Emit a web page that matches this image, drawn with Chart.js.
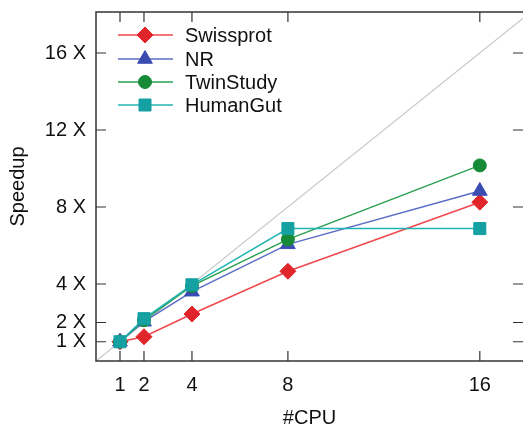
<!DOCTYPE html>
<html>
<head>
<meta charset="utf-8">
<script src="https://cdn.jsdelivr.net/npm/chart.js@4"></script>
<style>
  html, body { margin: 0; padding: 0; background: #fff; }
  #wrap { width: 523px; height: 427px; }
</style>
</head>
<body>
<div id="wrap"><canvas id="grafico" width="523" height="427"></canvas></div>
<script>
// numero de CPUs e speedup medido por base de dados
const cpus = [1, 2, 4, 8, 16];
const swissprot = [1, 1.26, 2.44, 4.66, 8.25];
const nr = [1, 2.04, 3.6, 6.06, 8.83];
const twinStudy = [1, 2.12, 3.9, 6.32, 10.16];
const humanGut = [1, 2.2, 3.96, 6.88, 6.88];
const yTicks = [1, 2, 4, 8, 12, 16];
const xTicks = [1, 2, 4, 8, 16];

const FONTE = "'Liberation Sans', Arial, Helvetica, sans-serif";

const series = [
    { label: "Swissprot", dado: swissprot, linha: "#f0484c", cor: "#e0262a", ponto: "rectRot", raio: 8 },
    { label: "NR", dado: nr, linha: "#5a6cc4", cor: "#3a4cb0", ponto: "triangle", raio: 8.5 },
    { label: "TwinStudy", dado: twinStudy, linha: "#2aa050", cor: "#178a38", ponto: "circle", raio: 6.5 },
    { label: "HumanGut", dado: humanGut, linha: "#22b4b4", cor: "#15a0a2", ponto: "rect", raio: 8.5 }
];

const pares = arr => cpus.map((c, i) => ({ x: c, y: arr[i] }));

const datasets = series.map((s, i) => ({
    label: s.label,
    data: pares(s.dado),
    borderColor: s.linha,
    backgroundColor: s.cor,
    pointBorderColor: s.cor,
    pointBackgroundColor: s.cor,
    pointStyle: s.ponto,
    pointRadius: s.raio,
    pointBorderWidth: 1,
    borderWidth: 1.5,
    order: 3 - i
}));

// linha de speedup ideal
datasets.push({
    label: "ideal",
    data: [{ x: 0, y: 0 }, { x: 18.2, y: 18.2 }],
    borderColor: "#c8c8c8",
    borderWidth: 1.2,
    pointRadius: 0,
    order: 10
});

// moldura com marcas para dentro + legenda
const moldura = {
    id: "moldura",
    afterDatasetsDraw(chart) {
        const ctx = chart.ctx;
        const a = chart.chartArea;
        const sx = chart.scales.x, sy = chart.scales.y;
        const tam = 10;
        ctx.save();
        ctx.strokeStyle = "#333";
        ctx.lineWidth = 1.5;
        ctx.strokeRect(a.left, a.top, a.right - a.left + 2, a.bottom - a.top);
        ctx.lineWidth = 1.2;
        ctx.beginPath();
        xTicks.forEach(v => {
            const px = sx.getPixelForValue(v);
            ctx.moveTo(px, a.bottom); ctx.lineTo(px, a.bottom - tam);
            ctx.moveTo(px, a.top); ctx.lineTo(px, a.top + tam);
        });
        yTicks.forEach(v => {
            const py = sy.getPixelForValue(v);
            ctx.moveTo(a.left, py); ctx.lineTo(a.left + tam, py);
            ctx.moveTo(a.right, py); ctx.lineTo(a.right - tam, py);
        });
        ctx.stroke();

        // legenda
        const x0 = 118, x1 = 173, xm = 145, xt = 185;
        const ys = [35, 59, 82, 105];
        ctx.font = "20px " + FONTE;
        ctx.textBaseline = "middle";
        ctx.textAlign = "left";
        series.forEach((s, i) => {
            ctx.strokeStyle = s.linha;
            ctx.lineWidth = 1.5;
            ctx.beginPath();
            ctx.moveTo(x0, ys[i]); ctx.lineTo(x1, ys[i]);
            ctx.stroke();
            ctx.fillStyle = s.cor;
            ctx.strokeStyle = s.cor;
            ctx.lineWidth = 1;
            Chart.helpers.drawPoint(ctx, { pointStyle: s.ponto, radius: s.raio, borderWidth: 1, rotation: 0 }, xm, ys[i]);
            ctx.fillStyle = "#111";
            ctx.fillText(s.label, xt, ys[i] + 1);
        });
        ctx.restore();
    }
};

const ctx = document.getElementById('grafico').getContext('2d');
const grafico = new Chart(ctx, {
    type: 'line',
    data: { datasets },
    options: {
        responsive: false,
        animation: false,
        layout: { autoPadding: false, padding: { top: 12, right: 0, left: 0, bottom: 0 } },
        plugins: { legend: { display: false }, tooltip: { enabled: false } },
        scales: {
            x: {
                type: 'linear',
                min: 0,
                max: 17.8,
                afterBuildTicks: s => { s.ticks = xTicks.map(v => ({ value: v })); },
                afterFit: s => { s.height = 66; s.paddingLeft = 0; s.paddingRight = 0; },
                grid: { display: false, drawTicks: false },
                border: { display: false },
                ticks: {
                    color: "#111",
                    font: { family: FONTE, size: 20 },
                    padding: 12,
                    maxRotation: 0,
                    autoSkip: false
                },
                title: {
                    display: true,
                    text: "#CPU",
                    color: "#111",
                    font: { family: FONTE, size: 20 },
                    padding: { top: 0, bottom: -3 }
                }
            },
            y: {
                type: 'linear',
                min: 0,
                max: 18.13,
                afterBuildTicks: s => { s.ticks = yTicks.map(v => ({ value: v })); },
                afterFit: s => { s.width = 96; s.paddingTop = 0; s.paddingBottom = 0; },
                grid: { display: false, drawTicks: false },
                border: { display: false },
                ticks: {
                    color: "#111",
                    font: { family: FONTE, size: 20 },
                    padding: 10,
                    autoSkip: false,
                    callback: v => v + " X"
                },
                title: {
                    display: true,
                    text: "Speedup",
                    color: "#111",
                    font: { family: FONTE, size: 20 },
                    padding: { top: 6, bottom: 0 }
                }
            }
        }
    },
    plugins: [moldura]
});
</script>
</body>
</html>
